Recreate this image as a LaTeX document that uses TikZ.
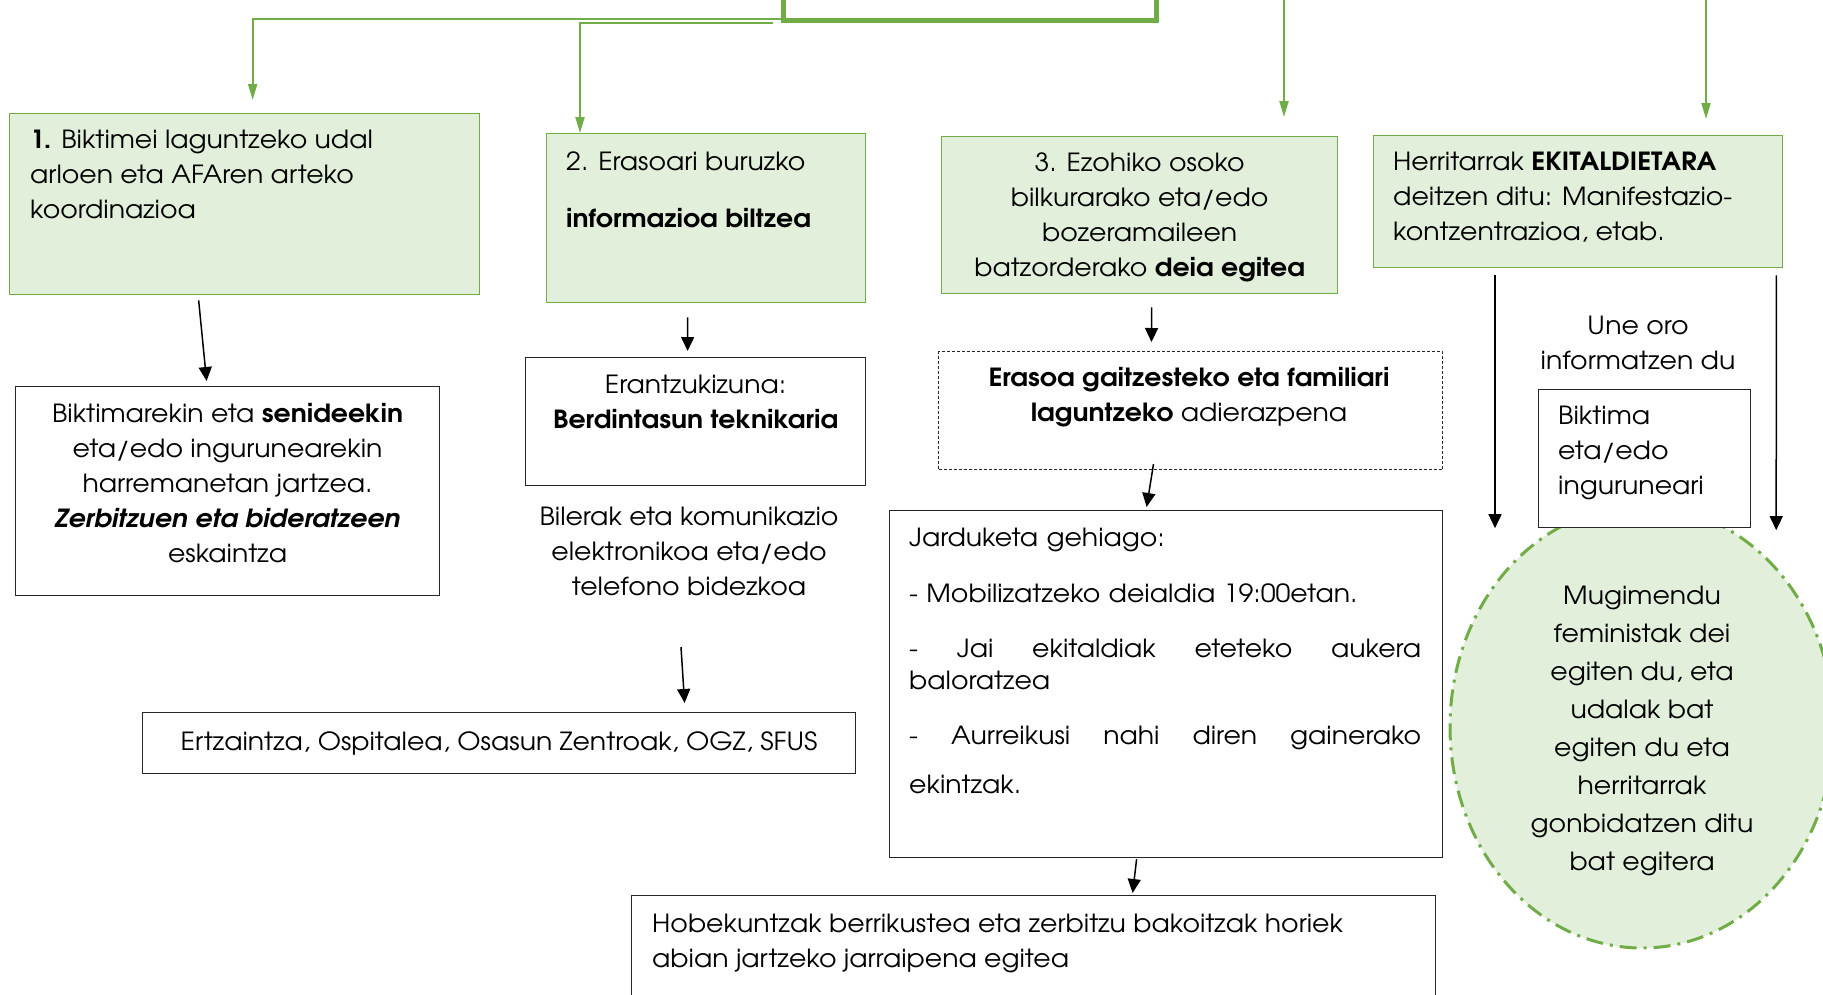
\documentclass[tikz,border=0pt]{standalone}
\usepackage{fontspec}
\setmainfont{TeX Gyre Adventor}[FakeStretch=1.07]
\usetikzlibrary{arrows.meta,positioning,shapes.geometric}
\definecolor{leafgreen}{HTML}{70AD47}
\definecolor{palegreen}{HTML}{E2EFDA}
\newcommand\fsz{\fontsize{25}{35}\selectfont}
\tikzset{
  gbox/.style={draw=leafgreen, fill=palegreen, line width=1.3pt, inner sep=0pt, anchor=north west},
  wbox/.style={draw=black!85, fill=white, line width=1.2pt, inner sep=0pt, anchor=north west},
  dbox/.style={wbox, dash pattern=on 3pt off 2pt, line width=1pt},
  txt/.style={font=\fsz, inner sep=0pt},
  garrow/.style={draw=leafgreen, line width=2pt, -{Triangle[length=16pt,width=9pt]}},
  barrow/.style={draw=black, line width=1.5pt, -{Triangle[length=14pt,width=13pt]}},
}
\begin{document}
\begin{tikzpicture}[x=1pt,y=-1pt]
\clip (0,0) rectangle (1823,994);
\fill[white] (0,0) rectangle (1823,994);

% top of the chart (cut off)
\node[wbox, draw=leafgreen, line width=5pt, minimum width=373, minimum height=38] (hub) at (781,-20) {};
\coordinate (in3) at (1284,-5);
\coordinate (in4) at (1706,-5);

% first row, green boxes
\node[gbox, minimum width=470, minimum height=181] (b1) at (9,113) {};
\node[txt, anchor=north west, align=left] (t1) at ([shift={(21,17)}]b1.north west)
  {\textbf{1.} Biktimei laguntzeko udal\\arloen eta AFAren arteko\\koordinazioa};
\node[gbox, minimum width=319, minimum height=169] (b2) at (546,133) {};
\node[txt, anchor=north west, align=left] (t2) at ([shift={(20,18)}]b2.north west)
  {2. Erasoari buruzko\\[22pt]\textbf{informazioa biltzea}};
\node[gbox, minimum width=396, minimum height=157] (b3) at (941,136) {};
\node[txt, anchor=north, align=center] (t3) at ([shift={(0,16)}]b3.north)
  {3. Ezohiko osoko\\bilkurarako eta/edo\\bozeramaileen\\batzorderako \textbf{deia egitea}};
\node[gbox, minimum width=409, minimum height=132] (b4) at (1373,135) {};
\node[txt, anchor=north west, align=left] (t4) at ([shift={(20,17)}]b4.north west)
  {Herritarrak \textbf{EKITALDIETARA}\\deitzen ditu: Manifestazio-\\kontzentrazioa, etab.};

% second level
\node[wbox, minimum width=424, minimum height=209] (b5) at (15,386) {};
\node[txt, anchor=north, align=center] (t5) at ([shift={(0,17)}]b5.north)
  {Biktimarekin eta \textbf{senideekin}\\eta/edo ingurunearekin\\harremanetan jartzea.\\\textbf{\textit{Zerbitzuen eta bideratzeen}}\\eskaintza};
\node[wbox, minimum width=340, minimum height=128] (b6) at (525,357) {};
\node[txt, anchor=north, align=center] (t6) at ([shift={(0,18)}]b6.north)
  {Erantzukizuna:\\\textbf{Berdintasun teknikaria}};
\node[txt, anchor=north, align=center] (t6b) at (689,507)
  {Bilerak eta komunikazio\\elektronikoa eta/edo\\telefono bidezkoa};
\node[wbox, minimum width=713, minimum height=61] (b7) at (142,712) {};
\node[txt] (t7) at (b7.center) {Ertzaintza, Ospitalea, Osasun Zentroak, OGZ, SFUS};

\node[dbox, minimum width=504, minimum height=118] (b8) at (938,351) {};
\node[txt, anchor=north, align=center] (t8) at (1189,367)
  {\textbf{Erasoa gaitzesteko eta familiari}\\\textbf{laguntzeko} adierazpena};
\node[wbox, minimum width=553, minimum height=347] (b9) at (889,510) {};
\node[txt, anchor=north west, align=left, text width=512] (t9) at ([shift={(20,18)}]b9.north west)
  {Jarduketa gehiago:\\[21pt]
   - Mobilizatzeko deialdia 19:00etan.\\[20pt]
   \makebox[512pt]{-\hfill Jai\hfill ekitaldiak\hfill eteteko\hfill aukera}\\[-3pt]
   baloratzea\\[20pt]
   \makebox[512pt]{-\hfill Aurreikusi\hfill nahi\hfill diren\hfill gainerako}\\[14pt]
   ekintzak.};
\node[wbox, minimum width=804, minimum height=120] (b10) at (631,895) {};
\node[txt, anchor=north west, align=left] (t10) at ([shift={(21,19)}]b10.north west)
  {Hobekuntzak berrikustea eta zerbitzu bakoitzak horiek\\abian jartzeko jarraipena egitea};

% right column
\node[ellipse, draw=leafgreen, fill=palegreen, line width=3pt,
      dash pattern=on 17pt off 7pt on 3pt off 7pt, minimum width=384, minimum height=442,
      inner sep=0pt] (ell) at (1642,727) {};
\node[txt, align=center] (t13) at ([yshift=-4pt]ell.center)
  {Mugimendu\\[3pt]feministak dei\\[3pt]egiten du, eta\\[3pt]udalak bat\\[3pt]egiten du eta\\[3pt]herritarrak\\[3pt]gonbidatzen ditu\\[3pt]bat egitera};
\node[txt, anchor=north, align=center] (t11) at (1638,316) {Une oro\\informatzen du};
\node[wbox, minimum width=212, minimum height=138] (b11) at (1538,389) {};
\node[txt, anchor=north west, align=left] (t12) at ([shift={(20,17)}]b11.north west)
  {Biktima\\eta/edo\\inguruneari};

% green connectors
\draw[garrow] ([yshift=4pt]hub.south west) -| ([shift={(8,-13)}]b1.north);
\draw[garrow] ([xshift=-8pt]hub.south west) -| ([xshift=34pt]b2.north west);
\draw[garrow, shorten >=19pt] (in3) -- (in3 |- b3.north);
\draw[garrow, shorten >=16pt] (in4) -- (in4 |- b4.north);

% black connectors
\draw[barrow] ([shift={(-46,5)}]b1.south) -- ([shift={(-21,-5)}]b5.north);
\draw[barrow] ([shift={(-18.5,14)}]b2.south) -- ([shift={(-8,-6)}]b6.north);
\draw[barrow] ([shift={(-8,51)}]t6b.south) -- ([shift={(185.5,-9)}]b7.north);
\draw[barrow] ([shift={(12,13)}]b3.south) -- ([shift={(-39,-9)}]b8.north);
\draw[barrow] ([shift={(-37,-6)}]b8.south) -- ([shift={(-19.5,-3)}]b9.north);
\draw[barrow] ([shift={(-29.5,1)}]b9.south) -- ([shift={(99,-2)}]b10.north);
\draw[barrow] ([shift={(122,7)}]b4.south west) -- ([shift={(-43,0)}]b11.south west);
\draw[barrow] ([shift={(-7,7)}]b4.south east) -- ([shift={(25,2)}]b11.south east);
\end{tikzpicture}
\end{document}
